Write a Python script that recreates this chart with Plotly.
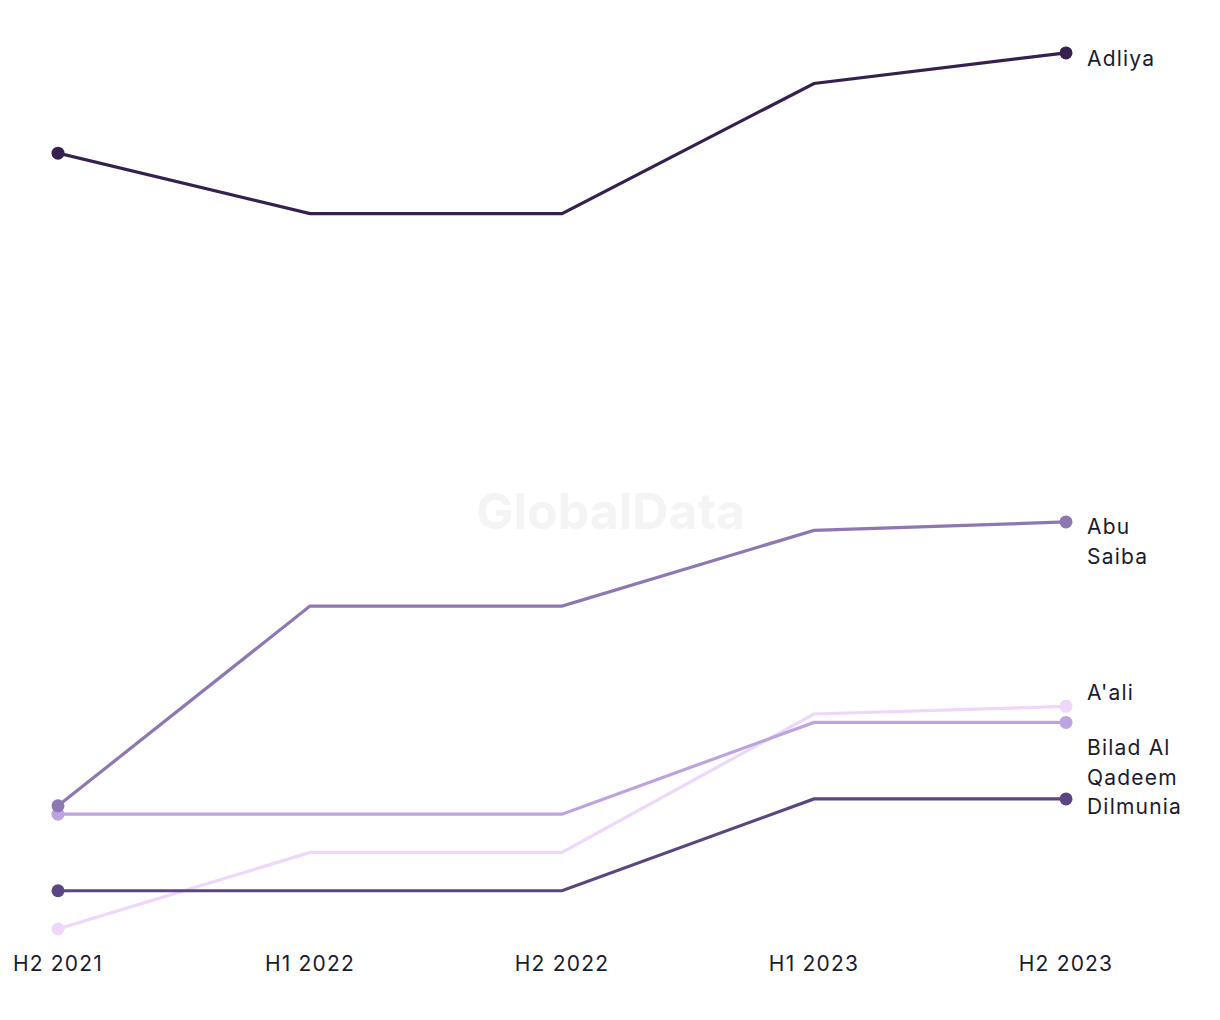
import plotly.graph_objects as go

periods = ["H2 2021", "H1 2022", "H2 2022", "H1 2023", "H2 2023"]

series_names = ["Adliya", "Abu Saiba", "A'ali", "Bilad Al Qadeem", "Dilmunia"]
adliya = [111.4, 103.5, 103.5, 120.5, 124.5]
abu_saiba = [26.1, 52.2, 52.2, 62.1, 63.2]
aali = [10.0, 20.0, 20.0, 38.1, 39.1]
bilad = [25.0, 25.0, 25.0, 37.0, 37.0]
dilmunia = [15.0, 15.0, 15.0, 27.0, 27.0]

label_lines = [["Adliya"], ["Abu", "Saiba"], ["A'ali"], ["Bilad Al", "Qadeem"], ["Dilmunia"]]
colors = ["#35204f", "#8e78b3", "#efd6fb", "#bda3e0", "#5b4681"]

all_values = [adliya, abu_saiba, aali, bilad, dilmunia]

FONT = "Inter, Roboto, sans-serif"
TXT = "#1b1b2f"

fig = go.Figure()
xs = list(range(len(periods)))

order = [2, 3, 1, 4, 0]
for i in order:
    vals = all_values[i]
    fig.add_trace(go.Scatter(
        x=xs, y=vals, mode="lines", name=series_names[i],
        line=dict(color=colors[i], width=3.2), hoverinfo="skip", showlegend=False,
    ))
    fig.add_trace(go.Scatter(
        x=[xs[0], xs[-1]], y=[vals[0], vals[-1]], mode="markers",
        marker=dict(color=colors[i], size=13), cliponaxis=False,
        showlegend=False, hoverinfo="skip",
    ))

# first-line vertical offsets (pixels, up positive)
first_shift = {0: -6, 1: -5, 2: 14, 3: -25, 4: -8}
LINE_GAP = 30
for i, vals in enumerate(all_values):
    for k, line in enumerate(label_lines[i]):
        fig.add_annotation(
            x=xs[-1], y=vals[-1], xref="x", yref="y", text=line,
            showarrow=False, xanchor="left", yanchor="middle", align="left",
            xshift=19, yshift=first_shift[i] - k * LINE_GAP,
            font=dict(family=FONT, size=21, color=TXT),
        )

# leader lines for displaced labels
for i, (dy0, dy1) in {2: (6, 20), 3: (-6, -18)}.items():
    fig.add_shape(
        type="line", xref="x", yref="y", xsizemode="pixel", ysizemode="pixel",
        xanchor=xs[-1], yanchor=all_values[i][-1],
        x0=4, x1=12, y0=dy0, y1=dy1,
        line=dict(color=colors[i], width=1.2, dash="dot"),
    )

fig.add_annotation(
    x=0.5, y=0.5, xref="paper", yref="paper", text="<b>GlobalData</b>",
    showarrow=False, font=dict(family=FONT, size=50, color="#f4f4f4"),
    xshift=48, yshift=-31,
)

fig.update_xaxes(
    range=[0, 4], tickvals=xs, ticktext=periods, showgrid=False, zeroline=False,
    showline=False, ticks="outside", ticklen=5, tickcolor="rgba(0,0,0,0)",
    tickfont=dict(family=FONT, size=21, color=TXT), automargin=False,
)
fig.update_yaxes(range=[8.56, 128.8], visible=False, showgrid=False, zeroline=False,
                 automargin=False)

fig.update_layout(
    width=1220, height=1020, plot_bgcolor="white", paper_bgcolor="white",
    margin=dict(l=50, r=162, t=12, b=88),
)

post = """
document.querySelectorAll('.annotation-text, .xtick text').forEach(function(e){
  if (e.textContent !== 'GlobalData') { e.style.letterSpacing = '1.2px'; }
});
"""

fig.write_html("out.html", post_script=post)
